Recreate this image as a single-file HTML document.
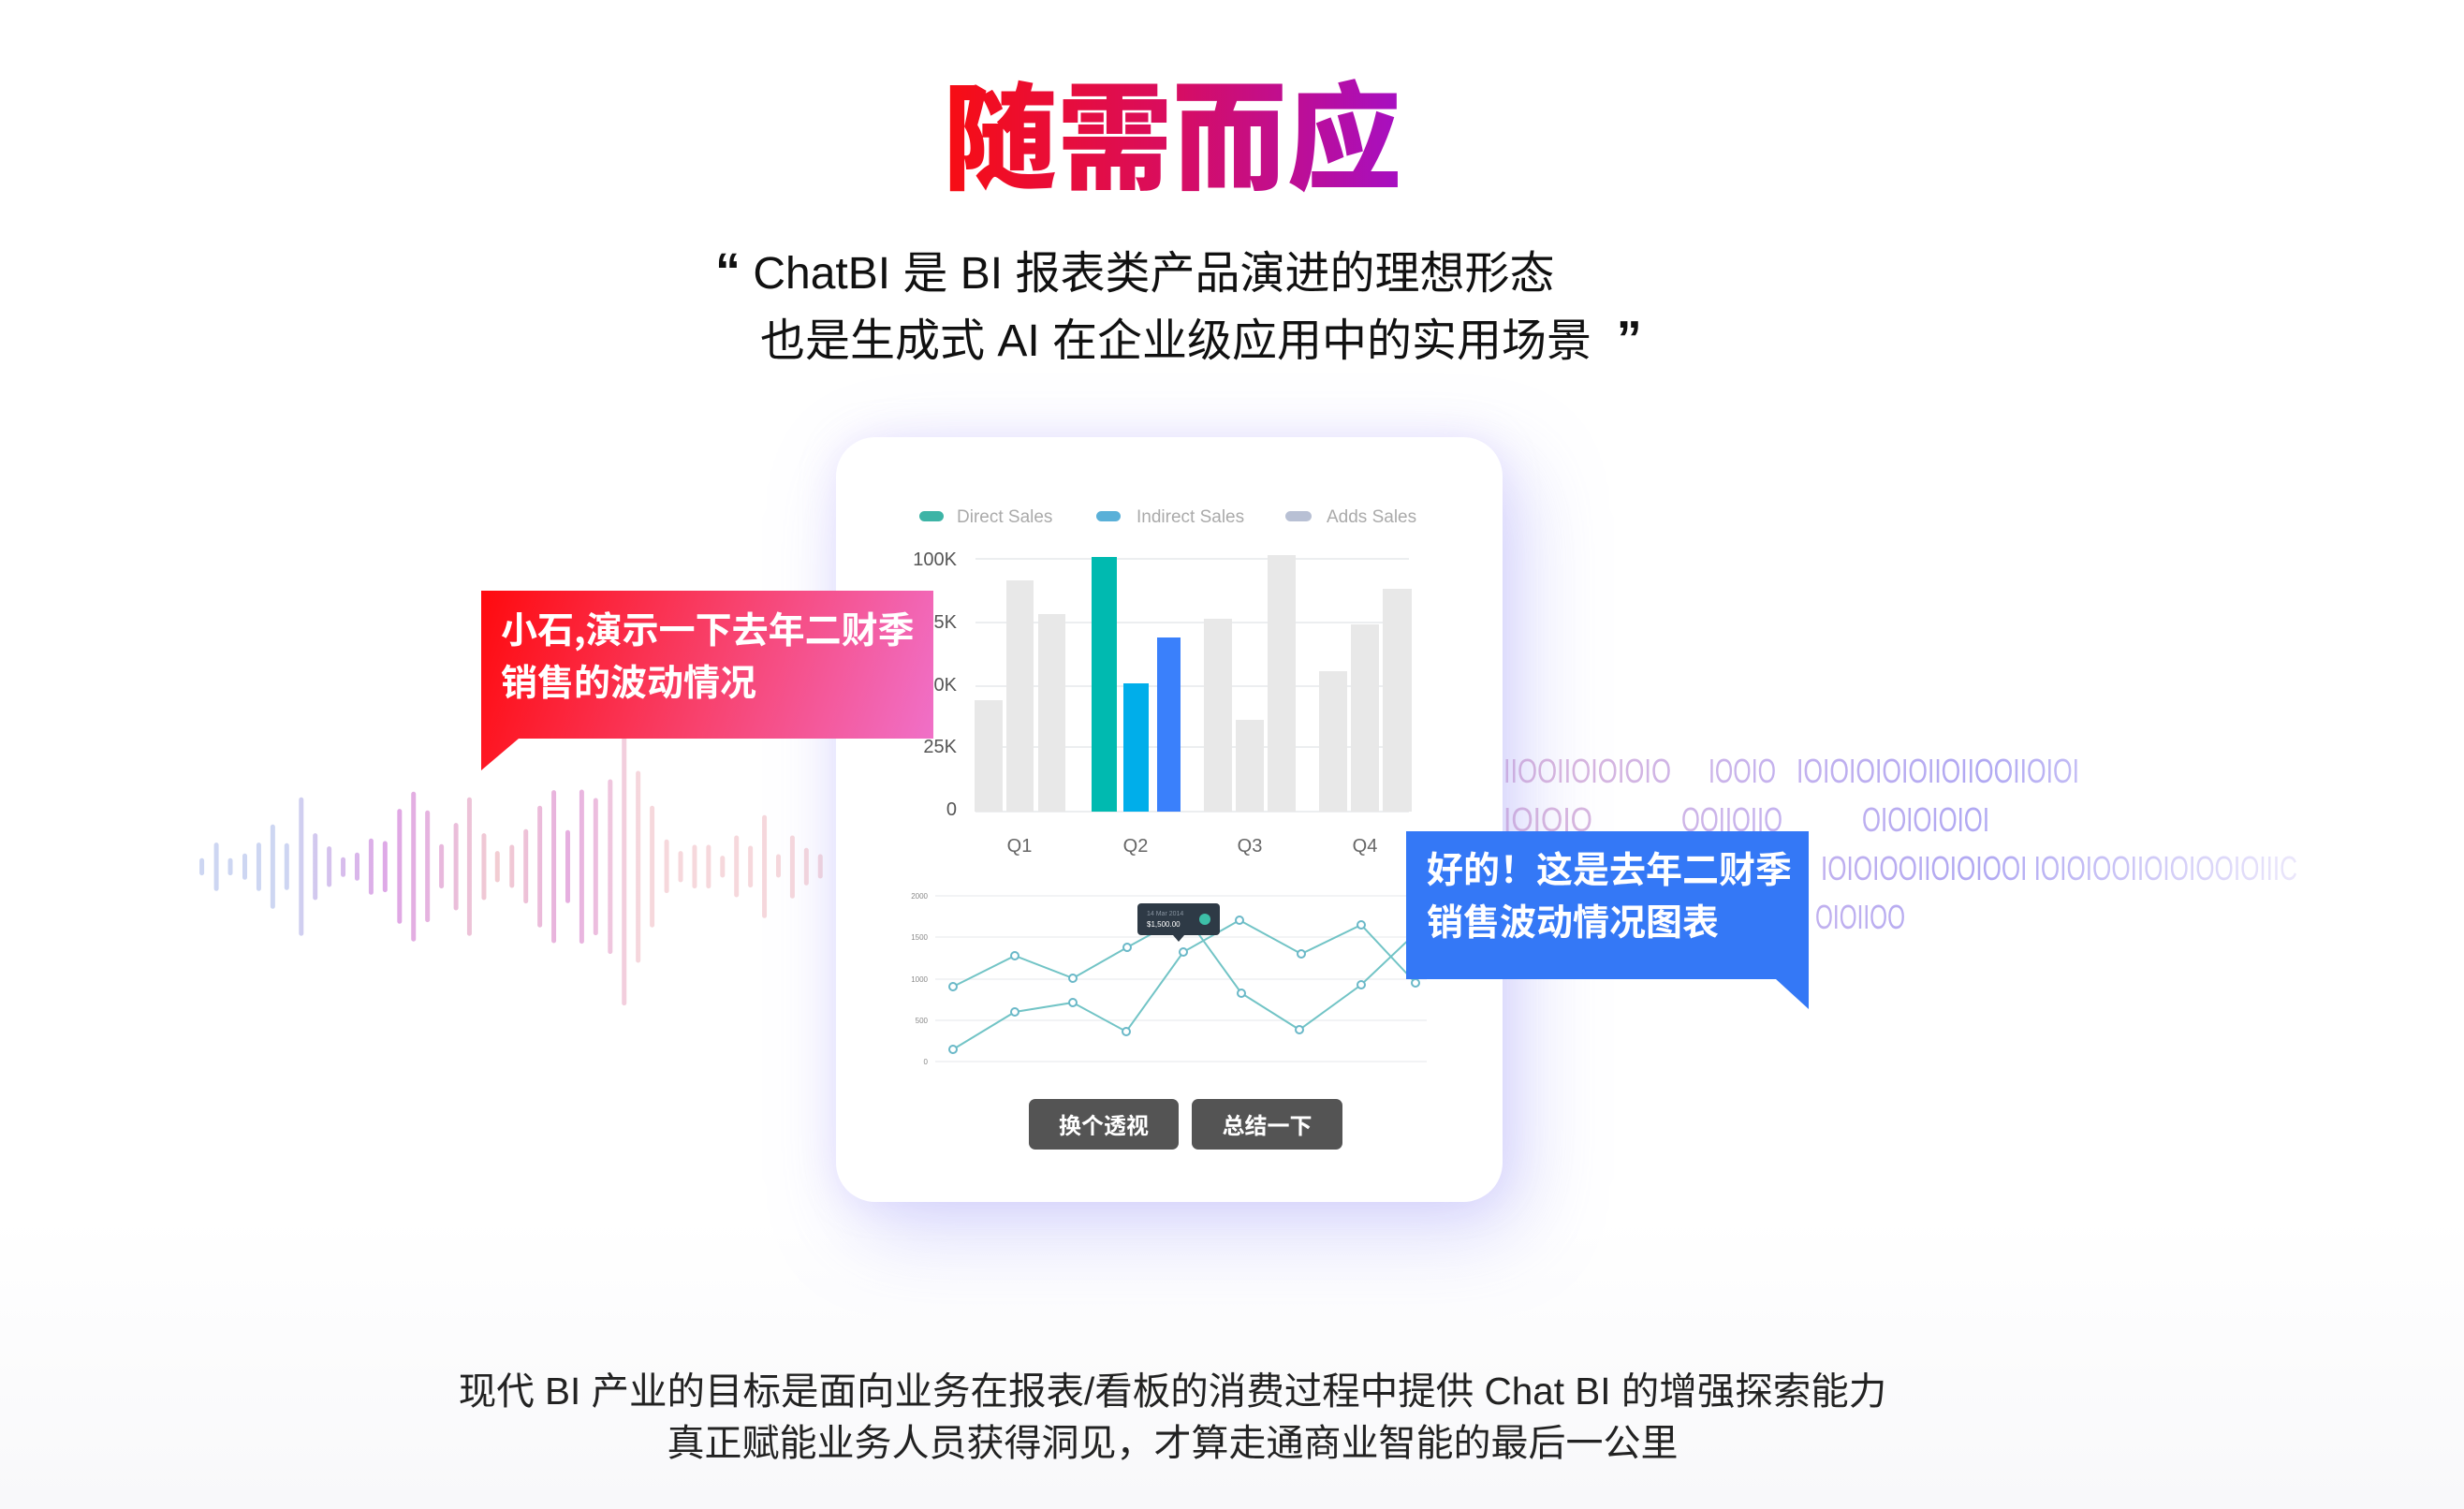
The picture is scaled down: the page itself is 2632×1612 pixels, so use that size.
<!DOCTYPE html>
<html><head><meta charset="utf-8">
<style>
html,body{margin:0;padding:0;background:#fff;}
body{width:2632px;height:1612px;position:relative;overflow:hidden;font-family:"Liberation Sans","Noto Sans CJK SC",sans-serif;background:linear-gradient(#fff 0,#fff 1300px,#f8f8fa 1612px);}
.card{position:absolute;left:893px;top:467px;width:712px;height:817px;background:#fff;border-radius:42px;box-shadow:20px 30px 90px rgba(140,140,245,.35),0 0 40px rgba(200,180,250,.25);}
.t{position:absolute;white-space:nowrap;}
.q{font-weight:900;font-size:54px;}
</style></head>
<body>
<svg width="2632" height="1612" style="position:absolute;left:0;top:0">
<defs>
<linearGradient id="tg" x1="1007" y1="0" x2="1497" y2="0" gradientUnits="userSpaceOnUse">
<stop offset="0" stop-color="#f80d12"/><stop offset="0.5" stop-color="#d80d60"/><stop offset="1" stop-color="#a60fc2"/></linearGradient>
<linearGradient id="wg" x1="216" y1="0" x2="880" y2="0" gradientUnits="userSpaceOnUse">
<stop offset="0" stop-color="#cdd6f2"/><stop offset="0.3" stop-color="#dfa6e6"/><stop offset="0.6" stop-color="#f2cdd2"/><stop offset="0.8" stop-color="#e6aee0"/><stop offset="1" stop-color="#f6d8dc"/></linearGradient>
<linearGradient id="bg1" x1="1600" y1="0" x2="2460" y2="0" gradientUnits="userSpaceOnUse">
<stop offset="0" stop-color="#e0b8d8"/><stop offset="0.35" stop-color="#c4b2ee"/><stop offset="0.6" stop-color="#b0a8f2"/><stop offset="1" stop-color="#ece8fb"/></linearGradient>
</defs>
<text x="1252" y="192" text-anchor="middle" font-family="Noto Sans CJK SC,sans-serif" font-weight="900" font-size="124" fill="url(#tg)" textLength="490" lengthAdjust="spacingAndGlyphs">随需而应</text>
<g transform="translate(180,600) scale(0.574,0.3333)" stroke="url(#wg)" stroke-linecap="round" fill="none">
<path vector-effect="non-scaling-stroke" stroke-width="5" d="M62 958V998M89 908V1048M115 958V998M142 943V1012M168 908V1048M194 850V1105M220 910V1045M247 763V1192M273 878V1077M299 920V1035M325 955V1003M351 940V1015M377 895V1060M403 903V1052M430 800V1153M456 745V1210M482 805V1148M508 913V1040M535 845V1110M560 763V1192M587 878V1077M612 935V1020M639 915V1038M665 865V1088M691 790V1165M717 740V1215M743 868V1087M769 738V1217M795 765V1190M822 705V1250M848 500V1415M874 678V1278M900 790V1165M927 898V1055M953 935V1020M979 915V1040M1005 915V1040M1031 950V1005M1057 885V1068M1083 918V1037M1109 820V1135M1135 945V1005M1161 885V1072M1187 925V1030M1213 945V1008"/>
</g>
<g font-family="Liberation Sans Narrow,Liberation Sans,sans-serif" font-size="36" fill="url(#bg1)" font-weight="300">
<text x="1606" y="836" textLength="179" lengthAdjust="spacingAndGlyphs">IIOOIIOIOIOIO</text>
<text x="1825" y="836" textLength="72" lengthAdjust="spacingAndGlyphs">IOOIO</text>
<text x="1919" y="836" textLength="302" lengthAdjust="spacingAndGlyphs">IOIOIOIOIOIIOIIOOIIOIOI</text>
<text x="1606" y="888" textLength="95" lengthAdjust="spacingAndGlyphs">IOIOIO</text>
<text x="1796" y="888" textLength="108" lengthAdjust="spacingAndGlyphs">OOIIOIIO</text>
<text x="1989" y="888" textLength="136" lengthAdjust="spacingAndGlyphs">OIOIOIOIOI</text>
<text x="1945" y="940" textLength="509" lengthAdjust="spacingAndGlyphs">IOIOIOOIIOIOIOOI IOIOIOOIIOIOIOOIOIIIC</text>
<text x="1939" y="992" textLength="96" lengthAdjust="spacingAndGlyphs">OIOIIOO</text>
</g>
</svg>

<div class="t" style="left:764px;top:260px;font-size:48px;color:#111;line-height:60px;"><span class="q">“</span> ChatBI 是 BI 报表类产品演进的理想形态</div>
<div class="t" style="left:812px;top:332px;font-size:48px;color:#111;line-height:60px;">也是生成式 AI 在企业级应用中的实用场景 &nbsp;<span class="q">”</span></div>

<div class="card"></div>

<svg width="2632" height="1612" style="position:absolute;left:0;top:0">
<g font-family="Liberation Sans,sans-serif">
<rect x="982" y="546" width="26" height="11" rx="5.5" fill="#3db4a6"/>
<text x="1022" y="558" font-size="19" fill="#aaa">Direct Sales</text>
<rect x="1171" y="546" width="26" height="11" rx="5.5" fill="#5ab0d8"/>
<text x="1214" y="558" font-size="19" fill="#aaa">Indirect Sales</text>
<rect x="1373" y="546" width="28" height="11" rx="5.5" fill="#b8c0d4"/>
<text x="1417" y="558" font-size="19" fill="#aaa">Adds Sales</text>
<g stroke="#eceef0" stroke-width="2">
<path d="M1042 597H1505M1042 665H1505M1042 733H1505M1042 798H1505M1042 867H1505"/>
</g>
<g font-size="20" fill="#555" text-anchor="end">
<text x="1022" y="604">100K</text><text x="1022" y="671">75K</text><text x="1022" y="738">50K</text><text x="1022" y="804">25K</text><text x="1022" y="871">0</text>
</g>
<g fill="#e8e8e8">
<rect x="1041" y="748" width="30" height="119"/><rect x="1075" y="620" width="29" height="247"/><rect x="1109" y="656" width="29" height="211"/>
<rect x="1286" y="661" width="30" height="206"/><rect x="1320" y="769" width="30" height="98"/><rect x="1354" y="593" width="30" height="274"/>
<rect x="1409" y="717" width="30" height="150"/><rect x="1443" y="667" width="30" height="200"/><rect x="1477" y="629" width="31" height="238"/>
</g>
<rect x="1166" y="595" width="27" height="272" fill="#00bab0"/>
<rect x="1200" y="730" width="27" height="137" fill="#00aeea"/>
<rect x="1236" y="681" width="25" height="186" fill="#3a80fb"/>
<g font-size="20" fill="#666" text-anchor="middle">
<text x="1089" y="910">Q1</text><text x="1213" y="910">Q2</text><text x="1335" y="910">Q3</text><text x="1458" y="910">Q4</text>
</g>
<g stroke="#f2f3f5" stroke-width="2"><path d="M999 957H1524M999 1001H1524M999 1046H1524M999 1090H1524M999 1134H1524"/></g>
<g font-size="8" fill="#888" text-anchor="end">
<text x="991" y="960">2000</text><text x="991" y="1004">1500</text><text x="991" y="1049">1000</text><text x="991" y="1093">500</text><text x="991" y="1137">0</text>
</g>
<g fill="none" stroke="#72c4c6" stroke-width="2">
<polyline points="1018,1054 1084,1021 1146,1045 1204,1012 1266,978 1326,1061 1388,1100 1454,1052 1512,997"/>
<polyline points="1018,1121 1084,1081 1146,1071 1203,1102 1264,1017 1324,983 1390,1019 1454,988 1512,1050"/>
</g>
<g fill="#fff" stroke="#6ab8c8" stroke-width="2">
<circle cx="1018" cy="1054" r="4"/><circle cx="1084" cy="1021" r="4"/><circle cx="1146" cy="1045" r="4"/><circle cx="1204" cy="1012" r="4"/><circle cx="1326" cy="1061" r="4"/><circle cx="1388" cy="1100" r="4"/><circle cx="1454" cy="1052" r="4"/>
<circle cx="1018" cy="1121" r="4"/><circle cx="1084" cy="1081" r="4"/><circle cx="1146" cy="1071" r="4"/><circle cx="1203" cy="1102" r="4"/><circle cx="1264" cy="1017" r="4"/><circle cx="1324" cy="983" r="4"/><circle cx="1390" cy="1019" r="4"/><circle cx="1454" cy="988" r="4"/><circle cx="1512" cy="1050" r="4"/>
</g>
<rect x="1215" y="965" width="88" height="34" rx="4" fill="#2e3a46"/>
<path d="M1253 999L1259 1006L1265 999Z" fill="#2e3a46"/>
<text x="1225" y="978" font-size="7" fill="#8894a0">14 Mar 2014</text>
<text x="1225" y="990" font-size="8" fill="#fff">$1,500.00</text>
<circle cx="1287" cy="982" r="6" fill="#3dbfa8"/>
</g>
</svg>

<div class="t" style="left:1099px;top:1174px;width:160px;height:54px;background:#545454;border-radius:7px;color:#fff;font-size:24px;font-weight:bold;text-align:center;line-height:54px;font-family:'Noto Sans CJK SC',sans-serif;">换个透视</div>
<div class="t" style="left:1273px;top:1174px;width:161px;height:54px;background:#545454;border-radius:7px;color:#fff;font-size:24px;font-weight:bold;text-align:center;line-height:54px;font-family:'Noto Sans CJK SC',sans-serif;">总结一下</div>

<svg width="2632" height="1612" style="position:absolute;left:0;top:0">
<defs>
<linearGradient id="pg" x1="514" y1="631" x2="997" y2="789" gradientUnits="userSpaceOnUse">
<stop offset="0" stop-color="#ff0a0e"/><stop offset="0.5" stop-color="#f8406a"/><stop offset="1" stop-color="#f070c8"/></linearGradient>
</defs>
<path d="M514 631H997V789H554L514 823Z" fill="url(#pg)"/>
<path d="M1502 888H1932V1078L1897 1046H1502Z" fill="#3478f6"/>
</svg>
<div class="t" style="left:535px;top:643px;color:#fff;font-size:39px;font-weight:bold;line-height:56px;font-family:'Noto Sans CJK SC',sans-serif;">小石,演示一下去年二财季<br>销售的波动情况</div>
<div class="t" style="left:1524px;top:899px;color:#fff;font-size:39px;font-weight:bold;line-height:56px;font-family:'Noto Sans CJK SC',sans-serif;">好的！这是去年二财季<br>销售波动情况图表</div>

<div class="t" style="left:0;width:2505px;text-align:center;top:1461px;font-size:40.5px;color:#222;line-height:50px;">现代 BI 产业的目标是面向业务在报表/看板的消费过程中提供 Chat BI 的增强探索能力</div>
<div class="t" style="left:0;width:2505px;text-align:center;top:1517px;font-size:40px;color:#222;line-height:50px;">真正赋能业务人员获得洞见，才算走通商业智能的最后一公里</div>
</body></html>
